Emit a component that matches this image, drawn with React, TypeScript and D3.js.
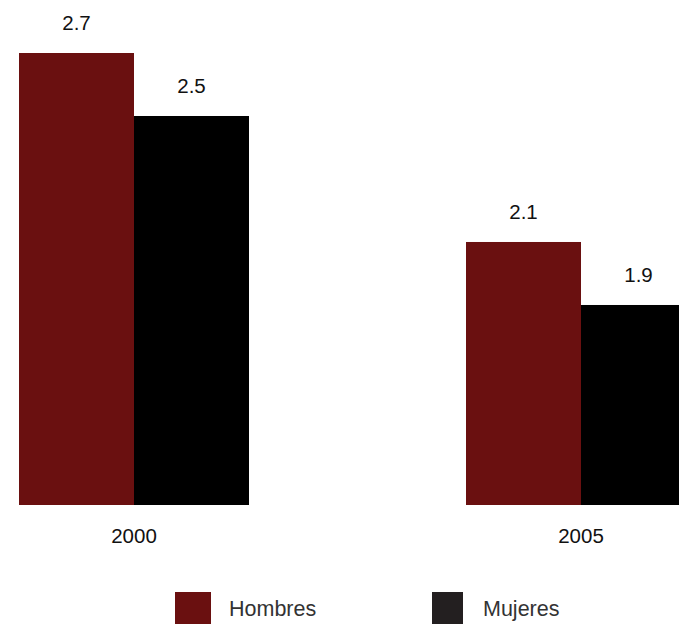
import React from "react";
import * as d3 from "d3";

const categories = ["2000", "2005"];
const seriesNames = ["Hombres", "Mujeres"];
const hombres = [2.7, 2.1];
const mujeres = [2.5, 1.9];
const barColors = ["#6a1010", "#000000"];
const legendColors = ["#6a1010", "#231f20"];

export default function App() {
  const W = 679;
  const H = 624;
  const font = "'Liberation Sans', Arial, sans-serif";
  const x0 = d3
    .scaleBand<string>()
    .domain(categories)
    .range([19, 696])
    .paddingInner(217 / 447)
    .paddingOuter(0);
  const x1 = d3
    .scaleBand<string>()
    .domain(seriesNames)
    .range([0, x0.bandwidth()])
    .padding(0);
  const y = d3.scaleLinear().domain([1.265, 2.7]).range([505, 53]);
  const values = [hombres, mujeres];

  const legendX = [175, 432];
  const legendW = [36, 31];
  const legendTextX = [229, 483];

  return (
    <svg
      width={W}
      height={H}
      style={{ position: "absolute", left: 0, top: 0, display: "block" }}
      fontFamily={font}
    >
      <rect x={0} y={0} width={W} height={H} fill="#ffffff" />
      {categories.map((c, ci) => (
        <g key={c}>
          {seriesNames.map((s, si) => {
            const v = values[si][ci];
            const bx = (x0(c) ?? 0) + (x1(s) ?? 0);
            const bw = x1.bandwidth();
            return (
              <g key={s}>
                <rect
                  x={bx}
                  y={y(v)}
                  width={bw}
                  height={y(y.domain()[0]) - y(v)}
                  fill={barColors[si]}
                />
                <text
                  x={bx + bw / 2}
                  y={y(v) - 23}
                  textAnchor="middle"
                  fontSize={20.5}
                  fill="#111"
                >
                  {v.toFixed(1)}
                </text>
              </g>
            );
          })}
          <text
            x={(x0(c) ?? 0) + x0.bandwidth() / 2}
            y={543}
            textAnchor="middle"
            fontSize={20.5}
            fill="#111"
          >
            {c}
          </text>
        </g>
      ))}
      {seriesNames.map((s, i) => (
        <g key={s}>
          <rect x={legendX[i]} y={592} width={legendW[i]} height={34} fill={legendColors[i]} />
          <text x={legendTextX[i]} y={616} fontSize={21.5} fill="#333">
            {s}
          </text>
        </g>
      ))}
    </svg>
  );
}
